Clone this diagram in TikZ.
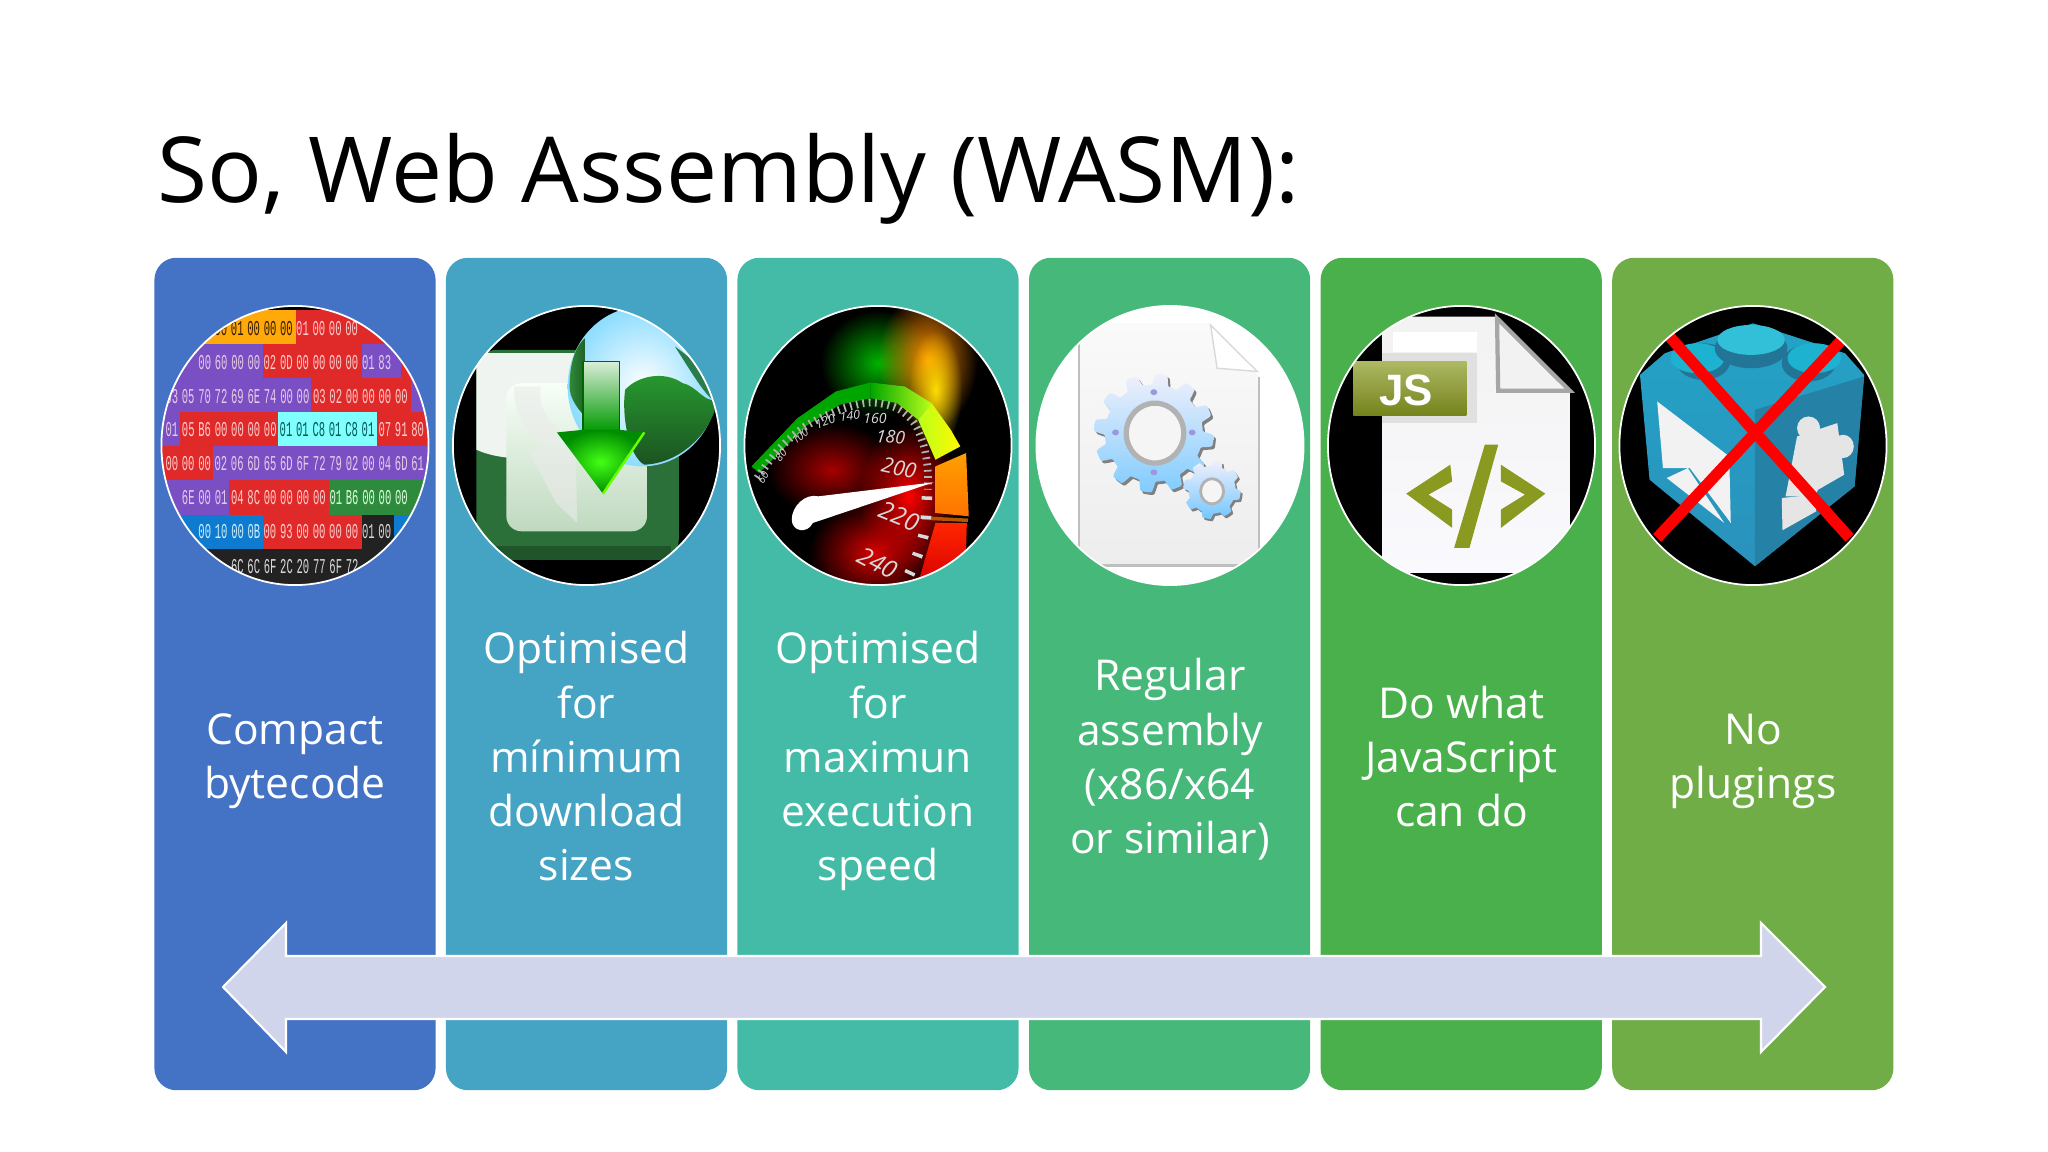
\documentclass[tikz,border=0pt]{standalone}
\usepackage{fontspec}
\setmainfont{Open Sans}
\setmonofont{Liberation Mono}
\newfontfamily\tagfont{Liberation Sans}
\usetikzlibrary{shapes.geometric,fadings}
\definecolor{mypanelA}{HTML}{4472C4}
\definecolor{mypanelB}{HTML}{45A3C4}
\definecolor{mypanelC}{HTML}{44BBA6}
\definecolor{mypanelD}{HTML}{46B87A}
\definecolor{mypanelE}{HTML}{4AB04C}
\definecolor{mypanelF}{HTML}{70AD47}
\definecolor{myarrow}{HTML}{D0D5EB}
\definecolor{myred}{HTML}{E02A2A}
\definecolor{mypurple}{HTML}{7B4FC4}
\definecolor{myorange}{HTML}{FFAA0A}
\definecolor{mycyan}{HTML}{80FFFF}
\definecolor{mygreen}{HTML}{2E8B3E}
\definecolor{myblue}{HTML}{0F7BD0}
\definecolor{mydark}{HTML}{222222}
\definecolor{myolive}{HTML}{8A9A20}
\definecolor{myteal}{HTML}{2A92BC}
\definecolor{myboxgreen}{HTML}{2A7038}
\definecolor{myland}{HTML}{2E8A38}
\tikzfading[name=softglow, inner color=transparent!0, outer color=transparent!100]
\tikzset{%
panel/.style={rectangle, rounded corners=0.22cm, minimum width=2.81cm, minimum height=8.32cm, inner sep=0},%
paneltext/.style={text=white, align=center, font=\fontsize{12.1pt}{15.4pt}\selectfont},%
imgring/.style={draw=white, line width=0.5pt, ellipse, minimum width=2.67cm, minimum height=2.79cm, inner sep=0},%
zoomview/.style={shift={(#1,290)}, x=0.003827cm, y=-0.003333cm},%
hexcell/.style={font=\ttfamily\fontsize{6pt}{6pt}\selectfont, xscale=0.5, transform shape, inner sep=0},%
gaugenum/.style={text=white!85!black, font=\itshape\fontsize{#1pt}{#1pt}\selectfont, inner sep=0},%
glow/.style={fill=#1, path fading=softglow}%
}
\newcommand{\hexrow}[4]{\foreach \myhex [count=\myi from 0] in {#4} \node[hexcell, text=#3] at (#1+42.8*\myi,#2) {\myhex};}
\newcommand{\gearpath}[5]{plot[domain=0:360, samples=241] ({#1+#3*(1+0.1*max(-1,min(1,2.5*sin(#5*\x))))*cos(\x)},{#2+#4*(1+0.1*max(-1,min(1,2.5*sin(#5*\x))))*sin(\x)})}
\newcommand{\ls}{\rule[-3.4pt]{0pt}{12pt}}
\begin{document}
\begin{tikzpicture}[x=0.01cm, y=-0.01cm]%
\useasboundingbox (0,0) rectangle (2048,1152);%
\node[anchor=base west, inner sep=0, font=\fontsize{25.9pt}{25.9pt}\selectfont] (title) at (157,203) {So, Web Assembly (WASM):};%
% six columns
\node[panel, fill=mypanelA] (panelA) at (295,674) {};%
\node[panel, fill=mypanelB] (panelB) at (586.5,674) {};%
\node[panel, fill=mypanelC] (panelC) at (878,674) {};%
\node[panel, fill=mypanelD] (panelD) at (1169.6,674) {};%
\node[panel, fill=mypanelE] (panelE) at (1461.2,674) {};%
\node[panel, fill=mypanelF] (panelF) at (1752.8,674) {};%
\node[paneltext] (textA) at (295,762) {\ls Compact\\bytecode\ls};%
\node[paneltext] (textB) at (586.5,762) {\ls Optimised\\for\\mínimum\\download\\sizes\ls};%
\node[paneltext] (textC) at (878,762) {\ls Optimised\\for\\maximun\\execution\\speed\ls};%
\node[paneltext] (textD) at (1170,762) {\ls Regular\\assembly\\(x86/x64\\or similar)\ls};%
\node[paneltext] (textE) at (1461.5,762) {\ls Do what\\JavaScript\\can do\ls};%
\node[paneltext] (textF) at (1753,762) {\ls No\\plugings\ls};%
% picture 1, hex dump
\begin{scope}%
\clip (295,445.5) ellipse (133.5 and 139.5);%
\begin{scope}[zoomview=150]%
\fill[black] (0,0) rectangle (800,960);%
\fill[myred] (380,60) rectangle (760,163);%
\fill[myorange] (100,60) rectangle (380,163);%
\fill[myred] (0,163) rectangle (760,265);%
\fill[mypurple] (0,163) rectangle (295,265);%
\fill[mypurple] (553,163) rectangle (655,265);%
\fill[myred] (0,265) rectangle (760,367);%
\fill[mypurple] (0,265) rectangle (420,367);%
\fill[mypurple] (680,265) rectangle (760,367);%
\fill[myred] (78,367) rectangle (760,469);%
\fill[mypurple] (0,367) rectangle (78,469);%
\fill[mycyan] (335,367) rectangle (593,469);%
\fill[mypurple] (165,469) rectangle (760,572);%
\fill[myred] (0,469) rectangle (165,572);%
\fill[mypurple] (0,572) rectangle (207,675);%
\fill[myred] (207,572) rectangle (467,675);%
\fill[mygreen] (467,572) rectangle (760,675);%
\fill[myblue] (0,675) rectangle (295,778);%
\fill[myred] (295,675) rectangle (552,778);%
\fill[mydark] (552,675) rectangle (637,778);%
\fill[myblue] (637,675) rectangle (760,778);%
\fill[mydark] (0,778) rectangle (760,900);%
\hexrow{185}{115}{black!80!orange}{00,01,00,00,00}%
\hexrow{398}{115}{red!20!white}{01,00,00,00}%
\hexrow{143}{218}{violet!20!white}{00,60,00,00}%
\hexrow{313}{218}{red!20!white}{02,0D,00,00,00,00}%
\hexrow{570}{218}{violet!20!white}{01,83}%
\hexrow{57}{320}{violet!20!white}{03,05,70,72,69,6E,74,00,00}%
\hexrow{442}{320}{red!20!white}{03,02,00,00,00,00}%
\hexrow{57}{420}{violet!20!white}{01}%
\hexrow{100}{420}{red!20!white}{05,B6,00,00,00,00}%
\hexrow{355}{420}{teal!70!black}{01,01,C8,01,C8,01}%
\hexrow{613}{420}{red!20!white}{07,91,80}%
\hexrow{57}{522}{red!20!white}{00,00,00}%
\hexrow{185}{522}{violet!20!white}{02,06,6D,65,6D,6F,72,79,02,00,04,6D,61}%
\hexrow{100}{625}{violet!20!white}{6E,00,01}%
\hexrow{228}{625}{red!20!white}{04,8C,00,00,00,00}%
\hexrow{485}{625}{green!15!white}{01,B6,00,00,00}%
\hexrow{143}{727}{cyan!20!white}{00,10,00,0B}%
\hexrow{313}{727}{red!20!white}{00,93,00,00,00,00}%
\hexrow{570}{727}{white!85!black}{01,00}%
\hexrow{228}{830}{white!85!black}{6C,6C,6F,2C,20,77,6F,72}%
\end{scope}%
\end{scope}%
% picture 2, download
\begin{scope}%
\clip (586.5,445.5) ellipse (133.5 and 139.5);%
\begin{scope}[zoomview=150]%
\fill[black] (780,0) rectangle (1500,960);%
\fill[myboxgreen, rounded corners=0.2cm] (852,180) rectangle (1380,810);%
\fill[myboxgreen!75!black] (880,770) rectangle (1360,812);%
\fill[green!30!black!6!white] (852,190) -- (1115,190) -- (1115,500) -- (1000,505) .. controls (930,510) and (880,495) .. (852,480) -- cycle;%
\shade[top color=black!3!green!3!white, bottom color=green!40!black!25!white, rounded corners=0.15cm] (930,280) rectangle (1297,725);%
\fill[black!8, opacity=0.6] (1020,290) .. controls (1010,360) and (1050,420) .. (1110,450) -- (1115,700) -- (1060,640) -- (990,490) -- (1030,470) .. controls (960,420) and (950,340) .. (950,290) -- cycle;%
\shade[inner color=white, outer color=blue!30!cyan!45!white] (1285,290) ellipse (195 and 240);%
\shade[left color=myland, right color=myland!70!black] (1095,290) .. controls (1095,220) and (1110,170) .. (1135,145) -- (1135,380) .. controls (1110,350) and (1095,320) .. (1095,290) -- cycle;%
\shade[top color=myland!85!green, bottom color=myland!60!black] (1240,300) .. controls (1270,260) and (1340,240) .. (1390,280) .. controls (1430,290) and (1445,340) .. (1480,330) .. controls (1470,420) and (1390,520) .. (1290,525) .. controls (1250,500) and (1230,380) .. (1240,300) -- cycle;%
\fill[myland!90!blue] (1370,170) .. controls (1420,210) and (1450,250) .. (1480,300) -- (1480,340) .. controls (1450,320) and (1420,260) .. (1370,170) -- cycle;%
\shade[top color=black!45!green!15!white, bottom color=green!60!black] (1130,215) -- (1225,215) -- (1225,425) -- (1130,425) -- cycle;%
\shade[inner color=green!80!yellow!92!white, outer color=green!55!black] (1130,420) -- (1225,420) -- (1290,428) -- (1182,612) -- (1062,428) -- cycle;%
\draw[green!60!yellow, line width=0.7pt] (1290,428) -- (1182,612);%
\draw[black!60!green, line width=0.5pt] (1130,420) -- (1130,215) -- (1225,215) -- (1225,420);%
\end{scope}%
\end{scope}%
% picture 3, speed gauge
\begin{scope}%
\clip (878,445.5) ellipse (133.5 and 139.5);%
\begin{scope}[zoomview=740]%
\fill[black] (0,0) rectangle (720,960);%
\fill[glow=green!70!black] (360,220) ellipse (150 and 160);%
\fill[glow=orange!90!yellow] (490,210) ellipse (130 and 210);%
\fill[glow=yellow!80!orange] (510,300) ellipse (70 and 180);%
\fill[glow=red!65!black] (240,540) ellipse (170 and 140);%
\fill[glow=red] (440,620) ellipse (130 and 220);%
\fill[glow=red!85!black] (350,790) ellipse (170 and 160);%
\fill[green!65!black] (30,530) -- (150,385) -- (250,305) -- (340,278) -- (340,325) -- (260,345) -- (170,410) -- (50,550) -- cycle;%
\shade[left color=green!65!black, right color=green!30!yellow!90!white] (340,278) -- (430,290) -- (500,340) -- (465,390) -- (410,340) -- (340,325) -- cycle;%
\shade[left color=green!30!yellow!90!white, right color=yellow!95!orange] (500,340) -- (550,420) -- (575,470) -- (510,510) -- (465,390) -- cycle;%
\shade[top color=orange!75!yellow, bottom color=orange!90!red] (510,530) -- (590,490) -- (597,680) -- (510,670) -- cycle;%
\shade[top color=red!70!orange, bottom color=red!85!black] (510,700) -- (592,700) -- (590,780) -- (570,880) -- (465,880) -- cycle;%
\draw[orange!70!black, line width=1pt] (475,685) -- (595,692);%
\draw[white!70!black, line width=2.2pt, dash pattern=on 0.5pt off 1.3pt] plot[smooth] coordinates {(45,565) (100,480) (170,410) (260,360) (340,338) (410,355) (455,400) (480,470) (490,540) (490,600)};%
\draw[white!85!black, line width=3pt, dash pattern=on 1pt off 4.5pt] plot[smooth] coordinates {(488,620) (482,720) (462,800) (435,870)};%
\node[gaugenum=3] (gaugeA) at (60,565) [rotate=60] {60};%
\node[gaugenum=3] (gaugeB) at (107,497) [rotate=50] {80};%
\node[gaugenum=3] (gaugeC) at (157,440) [rotate=40] {100};%
\node[gaugenum=3.5] (gaugeD) at (222,395) [rotate=20] {120};%
\node[gaugenum=3.5] (gaugeE) at (287,378) [rotate=5] {140};%
\node[gaugenum=4] (gaugeF) at (352,385) {160};%
\node[gaugenum=5] (gaugeG) at (393,442) [rotate=-5] {180};%
\node[gaugenum=6] (gaugeH) at (415,535) [rotate=-12] {200};%
\node[gaugenum=7] (gaugeI) at (415,680) [rotate=-22] {220};%
\node[gaugenum=7] (gaugeJ) at (360,820) [rotate=-28] {240};%
\fill[white] (505,578) -- (205,620) .. controls (170,610) and (135,650) .. (135,690) .. controls (135,725) and (175,735) .. (190,700) -- cycle;%
\end{scope}%
\end{scope}%
% picture 4, file with gears
\begin{scope}%
\clip (1170,445.5) ellipse (133.5 and 139.5);%
\begin{scope}[zoomview=740]%
\fill[white] (700,0) rectangle (1500,960);%
\shade[top color=black!2, bottom color=black!7] (885,100) -- (1225,100) -- (1355,260) -- (1355,828) -- (885,828) -- cycle;%
\draw[black!25, line width=0.7pt] (885,100) -- (885,828) -- (1355,828) -- (1355,260);%
\fill[white, draw=black!15] (1228,105) -- (1245,235) -- (1350,245) -- cycle;%
\fill[black!50] \gearpath{1086}{438}{142}{162}{12} -- cycle;%
\shade[top color=black!25!blue!6!white, middle color=cyan!18!white, bottom color=blue!40!cyan!50!white] \gearpath{1080}{430}{142}{162}{12} -- cycle;%
\fill[white!96!black, draw=black!30, line width=1.5pt] (1083,430) ellipse (75 and 90);%
\fill[black!50] \gearpath{1237}{607}{68}{80}{8} -- cycle;%
\shade[top color=black!25!blue!6!white, bottom color=blue!40!cyan!55!white] \gearpath{1232}{600}{68}{80}{8} -- cycle;%
\fill[white!96!black, draw=black!30, line width=0.8pt] (1232,605) ellipse (30 and 38);%
\foreach \mydot in {(1080,307),(980,428),(1180,428),(1080,548)} \fill[black!35!blue!40!white] \mydot ellipse (9 and 9);%
\end{scope}%
\end{scope}%
% picture 5, script file
\begin{scope}%
\clip (1461.5,445.5) ellipse (133.5 and 139.5);%
\begin{scope}[zoomview=1320]%
\fill[black] (0,0) rectangle (740,960);%
\shade[top color=black!5, bottom color=black!20!blue!2!white] (162,80) -- (460,80) -- (652,295) -- (652,850) -- (162,850) -- cycle;%
\fill[white] (190,125) rectangle (410,185);%
\fill[black!12] (162,190) rectangle (410,400);%
\fill[black!5, draw=black!35, line width=1.2pt] (462,85) -- (465,303) -- (652,303) -- cycle;%
\shade[top color=myolive!70!white, bottom color=myolive!85!black] (87,215) rectangle (382,378);%
\node[text=white, font=\tagfont\bfseries\fontsize{12.5pt}{12.5pt}\selectfont, inner sep=0] (jstag) at (225,303) {JS};%
\fill[myolive] (340,525) -- (225,612) -- (345,715) -- (345,660) -- (283,615) -- (345,575) -- cycle;%
\fill[myolive] (430,465) -- (465,465) -- (390,775) -- (350,775) -- cycle;%
\fill[myolive] (472,525) -- (588,612) -- (472,715) -- (472,660) -- (535,615) -- (472,575) -- cycle;%
\end{scope}%
\end{scope}%
% picture 6, plug-in block
\begin{scope}%
\clip (1753,445.5) ellipse (133.5 and 139.5);%
\begin{scope}[zoomview=1320]%
\fill[black] (760,0) rectangle (1500,960);%
\shade[top color=myteal!85!cyan, bottom color=myteal] (835,255) -- (900,190) -- (1130,100) -- (1370,190) -- (1420,255) -- (1395,590) -- (1135,830) -- (860,570) -- cycle;%
\fill[myteal!88!black] (1135,360) -- (1420,260) -- (1395,590) -- (1135,830) -- cycle;%
\fill[myteal!80!black] (1000,215) ellipse (70 and 55);%
\fill[myteal!70!cyan] (985,205) ellipse (70 and 45);%
\fill[myteal!80!black] (1275,220) ellipse (70 and 55);%
\fill[myteal!70!cyan] (1290,205) ellipse (70 and 45);%
\fill[myteal!80!black] (1125,175) ellipse (95 and 60);%
\fill[myteal!65!cyan!90!white] (1125,150) ellipse (88 and 45);%
\fill[white!95!black] (880,335) -- (1068,500) -- (1072,700) -- (965,535) -- (895,535) -- cycle;%
\fill[white!95!black] (905,565) -- (960,535) -- (1055,700) -- cycle;%
\fill[white!90!black] (1245,440) -- (1350,400) -- (1368,555) -- (1300,600) -- (1290,620) -- (1215,620) -- cycle;%
\fill[white!90!black] (1275,415) ellipse (30 and 35);%
\fill[white!90!black] (1365,470) ellipse (28 and 35);%
\fill[white!90!black] (1205,625) -- (1290,615) -- (1295,665) -- (1207,722) -- cycle;%
\draw[red, line width=3.2pt] (912,140) -- (1382,745);%
\draw[red, line width=3.2pt] (1370,140) -- (880,745);%
\end{scope}%
\end{scope}%
\node[imgring] (ringA) at (295,445.5) {};%
\node[imgring] (ringB) at (586.5,445.5) {};%
\node[imgring] (ringC) at (878,445.5) {};%
\node[imgring] (ringD) at (1170,445.5) {};%
\node[imgring] (ringE) at (1461.5,445.5) {};%
\node[imgring] (ringF) at (1753,445.5) {};%
% long double arrow
\draw[fill=myarrow, draw=white, line width=0.6pt] (223,987) -- (286,923) -- (286,956) -- (1761,956) -- (1761,923) -- (1825,987) -- (1761,1052) -- (1761,1019) -- (286,1019) -- (286,1052) -- cycle;%
\end{tikzpicture}
\end{document}
